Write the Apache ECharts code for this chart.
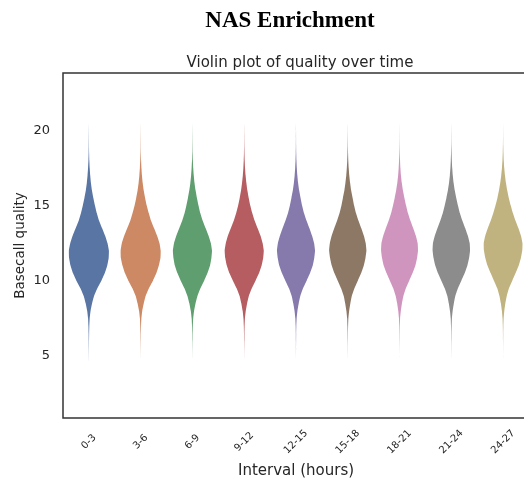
<!DOCTYPE html>
<html>
<head>
<meta charset="utf-8">
<script src="https://cdn.jsdelivr.net/npm/echarts@6/dist/echarts.min.js"></script>
<style>html,body{margin:0;padding:0;background:#fff}#c{width:524px;height:487px}</style>
</head>
<body>
<div id="c"></div>
<script>
// Categories (x axis)
const categories = ['0-3','3-6','6-9','9-12','12-15','15-18','18-21','21-24','24-27'];
// Y levels at which each violin's relative half-width is read
const qualityLevels = [4.5,5,5.5,6,6.5,7,7.5,8,8.5,9,9.5,10,10.5,11,11.5,12,12.5,13,13.5,14,14.5,15,15.5,16,16.5,17,17.5,18,18.5,19,19.5,20,20.5];
// Relative density (peak ~1) per interval
const dens_0_3   = [0,0.003,0.005,0.008,0.013,0.022,0.04,0.085,0.16,0.26,0.42,0.62,0.79,0.91,0.98,0.99,0.92,0.8,0.65,0.5,0.39,0.3,0.22,0.15,0.1,0.065,0.04,0.022,0.012,0.007,0.004,0.002,0];
const dens_3_6   = [0,0.002,0.004,0.007,0.011,0.02,0.037,0.08,0.155,0.25,0.41,0.61,0.78,0.9,0.98,0.99,0.93,0.81,0.66,0.51,0.4,0.3,0.22,0.15,0.1,0.063,0.038,0.021,0.011,0.006,0.004,0.002,0];
const dens_6_9   = [0,0.002,0.004,0.007,0.012,0.021,0.04,0.085,0.16,0.26,0.41,0.6,0.77,0.9,0.97,1.0,0.94,0.82,0.67,0.52,0.4,0.31,0.23,0.16,0.105,0.067,0.04,0.022,0.012,0.007,0.004,0.002,0];
const dens_9_12  = [0,0.002,0.004,0.007,0.012,0.02,0.038,0.08,0.15,0.24,0.39,0.58,0.76,0.89,0.97,1.0,0.94,0.83,0.68,0.53,0.41,0.31,0.23,0.16,0.11,0.07,0.042,0.024,0.013,0.007,0.004,0.002,0];
const dens_12_15 = [0,0.002,0.004,0.006,0.01,0.018,0.035,0.077,0.145,0.23,0.37,0.56,0.74,0.88,0.96,1.0,0.95,0.84,0.7,0.55,0.42,0.32,0.24,0.165,0.11,0.07,0.042,0.024,0.013,0.007,0.004,0.002,0];
const dens_15_18 = [0,0.002,0.004,0.006,0.01,0.017,0.033,0.075,0.14,0.22,0.36,0.54,0.72,0.86,0.95,1.0,0.96,0.86,0.72,0.57,0.44,0.34,0.26,0.18,0.125,0.08,0.05,0.028,0.015,0.008,0.005,0.002,0];
const dens_18_21 = [0,0.002,0.003,0.006,0.01,0.016,0.031,0.07,0.13,0.21,0.34,0.52,0.7,0.85,0.94,0.99,0.97,0.87,0.73,0.58,0.45,0.35,0.26,0.18,0.12,0.075,0.046,0.026,0.014,0.008,0.004,0.002,0];
const dens_21_24 = [0,0.002,0.004,0.006,0.01,0.017,0.032,0.072,0.135,0.215,0.35,0.53,0.71,0.85,0.94,0.99,0.97,0.87,0.73,0.58,0.45,0.35,0.26,0.18,0.12,0.077,0.047,0.027,0.015,0.008,0.004,0.002,0];
const dens_24_27 = [0,0.002,0.003,0.005,0.009,0.015,0.028,0.062,0.115,0.19,0.3,0.47,0.64,0.8,0.91,0.98,0.99,0.91,0.78,0.63,0.5,0.39,0.29,0.21,0.145,0.095,0.058,0.033,0.018,0.01,0.005,0.002,0];
// Maximum violin width as a fraction of the category band
const maxWidths = [0.78,0.78,0.755,0.755,0.735,0.72,0.72,0.73,0.755];
const yTicks = [5,10,15,20];
const colors = ['#5975a4','#cc8963','#5f9e6e','#b55d60','#857aab','#8d7866','#d095bf','#8c8c8c','#c1b37f'];

const densities = [dens_0_3,dens_3_6,dens_6_9,dens_9_12,dens_12_15,dens_15_18,dens_18_21,dens_21_24,dens_24_27];

const chart = echarts.init(document.getElementById('c'), null, {renderer:'canvas'});
const txt = '#262626';
const sans = 'DejaVu Sans';

const option = {
  animation: false,
  backgroundColor: '#fff',
  title: [
    {text:'NAS Enrichment', left:285, top:5, textAlign:'center',
     textStyle:{fontFamily:'Liberation Serif', fontWeight:'bold', fontSize:23, color:'#000'}},
    {text:'Violin plot of quality over time', left:295, top:51, textAlign:'center',
     textStyle:{fontFamily:sans, fontWeight:'normal', fontSize:15, color:txt}}
  ],
  grid: {left:63, top:73, width:466, height:345, outerBoundsMode:'none', containLabel:false,
         show:true, borderColor:'#333', borderWidth:1.5, backgroundColor:'transparent'},
  xAxis: {
    type:'category', data:categories, boundaryGap:true,
    axisLine:{show:false}, axisTick:{show:false}, splitLine:{show:false},
    axisLabel:{rotate:45, align:'center', verticalAlign:'middle', margin:24, fontSize:10, fontFamily:sans, color:txt, interval:0},
    name:'Interval (hours)', nameLocation:'middle', nameGap:46, nameMoveOverlap:false,
    nameTextStyle:{fontFamily:sans, fontSize:15, color:txt}
  },
  yAxis: {
    type:'value', min:0.87, max:23.8,
    axisLine:{show:false}, axisTick:{show:false}, splitLine:{show:false},
    axisLabel:{customValues:yTicks, margin:13, fontSize:13, fontFamily:sans, color:txt},
    name:'Basecall quality', nameLocation:'middle', nameGap:36, nameMoveOverlap:false,
    nameTextStyle:{fontFamily:sans, fontSize:13.5, color:txt}
  },
  series: [{
    type:'custom',
    data: categories.map((c,i)=>[i]),
    renderItem: function(params, api){
      const i = params.dataIndex;
      const d = densities[i];
      const band = api.size([1,0])[0];
      const half = band * maxWidths[i] / 2;
      const right = [], left = [];
      for (let k=0;k<qualityLevels.length;k++){
        const p = api.coord([i, qualityLevels[k]]);
        right.push([p[0] + d[k]*half, p[1]]);
        left.push([p[0] - d[k]*half, p[1]]);
      }
      const pts = right.concat(left.reverse());
      return {type:'polygon', shape:{points:pts, smooth:0.15}, style:{fill:colors[i], stroke:null}};
    }
  }]
};
chart.setOption(option);
</script>
</body>
</html>
